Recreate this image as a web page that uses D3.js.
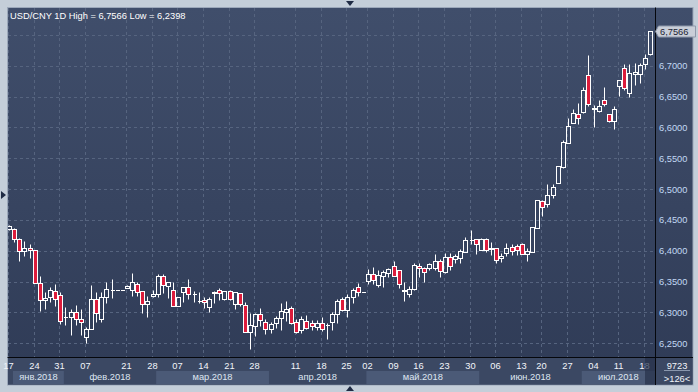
<!DOCTYPE html>
<html>
<head>
<meta charset="utf-8">
<script src="https://cdn.jsdelivr.net/npm/d3@7"></script>
<style>
  html, body { margin: 0; padding: 0; background: #c4ced9; }
  svg { display: block; font-family: "Liberation Sans", Arial, sans-serif; }
</style>
</head>
<body>
<div id="chart"></div>
<script>
// chart text
const chartTitle = "USD/CNY 1D High = 6,7566 Low = 6,2398";
const footerTop = "9723";
const footerBottom = ">126<";
const lastPrice = 6.7566;

// trading calendar (weekdays between the two dates, minus missing sessions)
const firstDay = "2018-01-17";
const lastDay = "2018-07-19";
const missingDays = ["2018-02-19", "2018-02-20", "2018-04-05", "2018-04-06", "2018-05-01", "2018-06-18"];

const openPrices = [
    6.435, 6.435, 6.419, 6.400, 6.404, 6.401, 6.348, 6.320, 6.325, 6.334,
    6.328, 6.292, 6.293, 6.300, 6.289, 6.260, 6.273, 6.322, 6.289, 6.325,
    6.336, 6.336, 6.336, 6.340, 6.336, 6.346, 6.335, 6.313, 6.327, 6.329,
    6.359, 6.342, 6.336, 6.310, 6.333, 6.341, 6.329, 6.318, 6.320, 6.309,
    6.331, 6.336, 6.322, 6.335, 6.313, 6.331, 6.312, 6.268, 6.278, 6.297,
    6.285, 6.273, 6.283, 6.291, 6.300, 6.307, 6.285, 6.271, 6.286, 6.283,
    6.276, 6.283, 6.279, 6.284, 6.297, 6.322, 6.304, 6.325, 6.341, 6.333,
    6.351, 6.362, 6.344, 6.359, 6.364, 6.375, 6.369, 6.335, 6.330, 6.338,
    6.375, 6.372, 6.372, 6.372, 6.383, 6.365, 6.390, 6.386, 6.388, 6.398,
    6.417, 6.419, 6.401, 6.419, 6.402, 6.405, 6.388, 6.396, 6.406, 6.408,
    6.411, 6.395, 6.398, 6.437, 6.480, 6.476, 6.490, 6.510, 6.536, 6.575,
    6.607, 6.622, 6.625, 6.685, 6.632, 6.627, 6.644, 6.622, 6.610, 6.667,
    6.696, 6.655, 6.687, 6.687, 6.703, 6.719
];
const highPrices = [
    6.441, 6.437, 6.420, 6.416, 6.411, 6.401, 6.359, 6.333, 6.341, 6.346,
    6.333, 6.309, 6.305, 6.312, 6.305, 6.276, 6.345, 6.333, 6.333, 6.349,
    6.354, 6.336, 6.336, 6.344, 6.364, 6.349, 6.335, 6.327, 6.336, 6.362,
    6.362, 6.350, 6.349, 6.325, 6.341, 6.354, 6.335, 6.333, 6.325, 6.325,
    6.335, 6.339, 6.335, 6.336, 6.333, 6.331, 6.317, 6.299, 6.299, 6.307,
    6.289, 6.284, 6.294, 6.315, 6.318, 6.310, 6.290, 6.294, 6.296, 6.288,
    6.288, 6.293, 6.283, 6.300, 6.322, 6.325, 6.330, 6.340, 6.347, 6.333,
    6.370, 6.373, 6.368, 6.368, 6.372, 6.383, 6.369, 6.349, 6.343, 6.380,
    6.380, 6.373, 6.380, 6.395, 6.386, 6.396, 6.396, 6.395, 6.403, 6.422,
    6.434, 6.419, 6.420, 6.420, 6.414, 6.405, 6.396, 6.412, 6.411, 6.411,
    6.412, 6.405, 6.438, 6.482, 6.482, 6.508, 6.508, 6.537, 6.579, 6.615,
    6.630, 6.640, 6.665, 6.717, 6.636, 6.645, 6.665, 6.622, 6.635, 6.677,
    6.703, 6.703, 6.704, 6.704, 6.719, 6.7566
];
const lowPrices = [
    6.434, 6.414, 6.383, 6.391, 6.388, 6.347, 6.302, 6.305, 6.317, 6.310,
    6.281, 6.280, 6.263, 6.280, 6.263, 6.250, 6.273, 6.285, 6.284, 6.315,
    6.323, 6.336, 6.336, 6.339, 6.327, 6.327, 6.299, 6.293, 6.325, 6.325,
    6.331, 6.323, 6.310, 6.310, 6.317, 6.322, 6.317, 6.315, 6.307, 6.301,
    6.315, 6.320, 6.320, 6.320, 6.305, 6.310, 6.268, 6.2398, 6.262, 6.278,
    6.265, 6.267, 6.275, 6.271, 6.286, 6.281, 6.267, 6.267, 6.273, 6.271,
    6.271, 6.270, 6.257, 6.271, 6.283, 6.302, 6.292, 6.315, 6.327, 6.333,
    6.346, 6.346, 6.341, 6.341, 6.358, 6.359, 6.340, 6.318, 6.325, 6.336,
    6.358, 6.349, 6.369, 6.369, 6.358, 6.364, 6.369, 6.380, 6.380, 6.398,
    6.411, 6.395, 6.401, 6.398, 6.393, 6.380, 6.382, 6.391, 6.393, 6.393,
    6.394, 6.383, 6.398, 6.436, 6.456, 6.471, 6.485, 6.509, 6.534, 6.575,
    6.607, 6.605, 6.623, 6.635, 6.600, 6.625, 6.635, 6.609, 6.597, 6.651,
    6.661, 6.649, 6.669, 6.672, 6.695, 6.717
];
const closePrices = [
    6.440, 6.419, 6.400, 6.404, 6.401, 6.348, 6.320, 6.323, 6.336, 6.321,
    6.286, 6.293, 6.301, 6.289, 6.285, 6.273, 6.322, 6.299, 6.325, 6.338,
    6.337, 6.336, 6.336, 6.343, 6.349, 6.333, 6.313, 6.318, 6.330, 6.359,
    6.344, 6.350, 6.310, 6.325, 6.341, 6.330, 6.330, 6.319, 6.317, 6.322,
    6.333, 6.331, 6.335, 6.322, 6.333, 6.313, 6.268, 6.279, 6.297, 6.288,
    6.273, 6.281, 6.291, 6.302, 6.305, 6.283, 6.268, 6.289, 6.275, 6.278,
    6.282, 6.273, 6.280, 6.297, 6.318, 6.304, 6.325, 6.336, 6.333, 6.333,
    6.362, 6.352, 6.360, 6.366, 6.370, 6.359, 6.346, 6.337, 6.338, 6.377,
    6.372, 6.365, 6.378, 6.383, 6.367, 6.390, 6.375, 6.391, 6.399, 6.417,
    6.418, 6.411, 6.419, 6.401, 6.405, 6.385, 6.391, 6.404, 6.399, 6.401,
    6.395, 6.400, 6.438, 6.482, 6.471, 6.490, 6.503, 6.537, 6.576, 6.602,
    6.623, 6.615, 6.661, 6.638, 6.630, 6.635, 6.638, 6.610, 6.630, 6.677,
    6.664, 6.688, 6.689, 6.701, 6.713, 6.7566
];

const dayTicks = [
    "2018-01-17", "2018-01-24", "2018-01-31", "2018-02-07", "2018-02-21", "2018-02-28",
    "2018-03-07", "2018-03-14", "2018-03-21", "2018-03-28", "2018-04-11", "2018-04-18",
    "2018-04-25", "2018-05-02", "2018-05-09", "2018-05-16", "2018-05-23", "2018-05-30",
    "2018-06-06", "2018-06-13", "2018-06-20", "2018-06-27", "2018-07-04", "2018-07-11",
    "2018-07-18"
];
const priceTicks = [6.25, 6.30, 6.35, 6.40, 6.45, 6.50, 6.55, 6.60, 6.65, 6.70, 6.75];
const monthLabels = ["янв.2018", "фев.2018", "мар.2018", "апр.2018", "май.2018", "июн.2018", "июл.2018"];

class CandleChart {
    constructor(_config, _data) {
        this.config = {
            parentElement: _config.parentElement,
            containerWidth: _config.containerWidth || 698,
            containerHeight: _config.containerHeight || 392,
            plot: { left: 8, top: 8, right: 655, bottom: 357 },
            frame: { left: 7.5, top: 7.5, right: 693, bottom: 385 },
            upColor: "#ffffff",
            downColor: "#dc1c3c",
        };
        this.data = _data;
        this.initVis();
    }

    initVis() {
        let vis = this;
        const p = vis.config.plot;
        const f = vis.config.frame;

        vis.svg = d3
            .select(vis.config.parentElement)
            .append("svg")
            .attr("width", vis.config.containerWidth)
            .attr("height", vis.config.containerHeight);

        const defs = vis.svg.append("defs");
        const grad = defs.append("linearGradient")
            .attr("id", "bg-grad")
            .attr("x1", 0).attr("y1", 0).attr("x2", 0).attr("y2", 1);
        grad.append("stop").attr("offset", "0%").attr("stop-color", "#404e6b");
        grad.append("stop").attr("offset", "100%").attr("stop-color", "#2f3b56");
        defs.append("clipPath").attr("id", "plot-clip")
            .append("rect")
            .attr("x", p.left).attr("y", p.top)
            .attr("width", p.right - p.left).attr("height", p.bottom - p.top);

        // outer grey window and the dark panel
        vis.svg.append("rect")
            .attr("width", vis.config.containerWidth)
            .attr("height", vis.config.containerHeight)
            .attr("fill", "#c4ced9");
        vis.svg.append("rect")
            .attr("x", f.left).attr("y", f.top)
            .attr("width", f.right - f.left).attr("height", f.bottom - f.top)
            .attr("fill", "url(#bg-grad)")
            .attr("stroke", "#9ca8ba");

        // bottom axis strip
        vis.svg.append("rect")
            .attr("x", f.left + 0.5).attr("y", p.bottom)
            .attr("width", f.right - f.left - 1).attr("height", f.bottom - p.bottom - 0.5)
            .attr("fill", "#3b4863");

        vis.xScale = d3.scaleBand()
            .domain(vis.data.map((d) => d.date))
            .range([7.44, 653.56])
            .padding(0);
        vis.yScale = d3.scaleLinear()
            .domain([6.2276, 6.7936])
            .range([p.bottom, p.top]);

        vis.gridGroup = vis.svg.append("g").attr("class", "grid");
        vis.candleGroup = vis.svg.append("g").attr("clip-path", "url(#plot-clip)");
        vis.axisGroup = vis.svg.append("g").attr("class", "axes");

        vis.updateVis();
    }

    center(date) {
        return Math.round(this.xScale(date) + this.xScale.bandwidth() / 2);
    }

    updateVis() {
        let vis = this;
        const p = vis.config.plot;
        const f = vis.config.frame;
        const y = vis.yScale;
        const px = (v) => Math.round(y(v)) + 0.5;

        // grid
        vis.gridGroup.selectAll(".hgrid")
            .data(priceTicks)
            .join("line")
            .attr("class", "hgrid")
            .attr("x1", p.left).attr("x2", p.right)
            .attr("y1", px).attr("y2", px)
            .attr("stroke", "#56647f")
            .attr("stroke-dasharray", "3,3");
        vis.gridGroup.selectAll(".vgrid")
            .data(dayTicks)
            .join("line")
            .attr("class", "vgrid")
            .attr("x1", (d) => vis.center(d) - 1.5)
            .attr("x2", (d) => vis.center(d) - 1.5)
            .attr("y1", p.top).attr("y2", p.bottom)
            .attr("stroke", "#56647f")
            .attr("stroke-dasharray", "3,3");

        // candles
        const candles = vis.candleGroup.selectAll(".candle")
            .data(vis.data)
            .join("g")
            .attr("class", "candle");

        candles.each(function (d) {
            const g = d3.select(this);
            const cx = vis.center(d.date);
            const top = Math.round(y(Math.max(d.open, d.close))) + 0.5;
            const bottom = Math.round(y(Math.min(d.open, d.close))) + 0.5;
            const up = d.close >= d.open;
            const wx = cx - 0.5;
            if (px(d.high) < top) {
                g.append("line").attr("x1", wx).attr("x2", wx)
                    .attr("y1", px(d.high)).attr("y2", top).attr("stroke", "#fff");
            }
            if (px(d.low) > bottom) {
                g.append("line").attr("x1", wx).attr("x2", wx)
                    .attr("y1", bottom).attr("y2", px(d.low)).attr("stroke", "#fff");
            }
            if (bottom - top < 1) {
                g.append("line")
                    .attr("x1", cx - 2).attr("x2", cx + 2)
                    .attr("y1", top).attr("y2", top)
                    .attr("stroke", "#fff");
            } else {
                g.append("rect")
                    .attr("x", cx - 2.5).attr("y", top)
                    .attr("width", 4).attr("height", bottom - top)
                    .attr("fill", up ? "none" : vis.config.downColor)
                    .attr("stroke", vis.config.upColor);
            }
        });

        // separators
        vis.axisGroup.append("line")
            .attr("x1", p.right + 0.5).attr("x2", p.right + 0.5)
            .attr("y1", f.top).attr("y2", f.bottom)
            .attr("stroke", "#05070c");
        vis.axisGroup.append("line")
            .attr("x1", f.left).attr("x2", f.right)
            .attr("y1", p.bottom + 0.5).attr("y2", p.bottom + 0.5)
            .attr("stroke", "#05070c");

        // title
        vis.axisGroup.append("text")
            .attr("x", 10).attr("y", 18.5)
            .attr("fill", "#ffffff")
            .attr("font-size", "9.3px")
            .text(chartTitle);

        // price axis (the top tick sits under the last-price marker)
        const ly = Math.round(y(lastPrice)) + 0.5;
        vis.axisGroup.selectAll(".ylabel")
            .data(priceTicks.filter((d) => Math.abs(y(d) - ly) > 10))
            .join("text")
            .attr("class", "ylabel")
            .attr("x", 659)
            .attr("y", (d) => y(d) + 3.5)
            .attr("fill", "#c2d8f4")
            .attr("font-size", "9.3px")
            .text((d) => d3.format(".4f")(d).replace(".", ","));

        vis.axisGroup.append("path")
            .attr("d", `M655.5,${ly} L658.5,${ly - 5.5} L695.5,${ly - 5.5} L695.5,${ly + 5.5} L658.5,${ly + 5.5} Z`)
            .attr("fill", "#c9ced8")
            .attr("stroke", "#8f99aa");
        vis.axisGroup.append("text")
            .attr("x", 660).attr("y", ly + 3.5)
            .attr("fill", "#1b2232")
            .attr("font-size", "9.3px")
            .text(d3.format(".4f")(lastPrice).replace(".", ","));

        // month bands
        const months = d3.groups(vis.data, (d) => d.date.slice(0, 7));
        months.forEach(([key, days], i) => {
            const x0 = Math.max(vis.xScale(days[0].date), p.left + 5);
            const x1 = i < months.length - 1 ? vis.xScale(months[i + 1][1][0].date) : p.right;
            if (i % 2 === 0) {
                vis.axisGroup.append("rect")
                    .attr("x", x0).attr("y", 371)
                    .attr("width", x1 - x0).attr("height", 13)
                    .attr("fill", "#4b5a77");
            }
            vis.axisGroup.append("text")
                .attr("x", (x0 + x1) / 2).attr("y", 379.5)
                .attr("text-anchor", "middle")
                .attr("fill", "#dfe6f1")
                .attr("font-size", "9.3px")
                .text(monthLabels[i]);
        });

        // day labels
        vis.axisGroup.selectAll(".xlabel")
            .data(dayTicks)
            .join("text")
            .attr("class", "xlabel")
            .attr("x", (d) => vis.center(d) - 1.5)
            .attr("y", 368.5)
            .attr("text-anchor", "middle")
            .attr("fill", "#f2f5fa")
            .attr("font-size", "9.3px")
            .text((d) => d.slice(8, 10));

        vis.axisGroup.append("rect")
            .attr("x", 645).attr("y", p.bottom + 1)
            .attr("width", p.right - 645).attr("height", f.bottom - p.bottom - 1.5)
            .attr("fill", "#26314a")
            .attr("opacity", 0.7);

        // footer box
        vis.axisGroup.append("text")
            .attr("x", 677).attr("y", 368.5)
            .attr("text-anchor", "middle")
            .attr("fill", "#f2f5fa")
            .attr("font-size", "9.3px")
            .text(footerTop);
        vis.axisGroup.append("line")
            .attr("x1", 664).attr("x2", 690)
            .attr("y1", 370.5).attr("y2", 370.5)
            .attr("stroke", "#8a97ad");
        vis.axisGroup.append("text")
            .attr("x", 677).attr("y", 381.5)
            .attr("text-anchor", "middle")
            .attr("fill", "#f2f5fa")
            .attr("font-size", "9.3px")
            .text(footerBottom);

        // scroll arrows on the window frame
        const arrows = ["M346,1 L354,1 L350,6 Z", "M1,191 L1,199 L6,195 Z", "M346,391 L354,391 L350,386 Z"];
        vis.axisGroup.selectAll(".arrow")
            .data(arrows)
            .join("path")
            .attr("class", "arrow")
            .attr("d", (d) => d)
            .attr("fill", "#1f2b44");
    }
}

const parseDay = d3.timeParse("%Y-%m-%d");
const formatDay = d3.timeFormat("%Y-%m-%d");
const tradingDays = d3.timeDay
    .range(parseDay(firstDay), d3.timeDay.offset(parseDay(lastDay), 1))
    .filter((d) => d.getDay() !== 0 && d.getDay() !== 6)
    .map(formatDay)
    .filter((d) => !missingDays.includes(d));

const candleData = tradingDays.map((date, i) => ({
    date: date,
    open: openPrices[i],
    high: highPrices[i],
    low: lowPrices[i],
    close: closePrices[i],
}));

new CandleChart({ parentElement: "#chart" }, candleData);
</script>
</body>
</html>
